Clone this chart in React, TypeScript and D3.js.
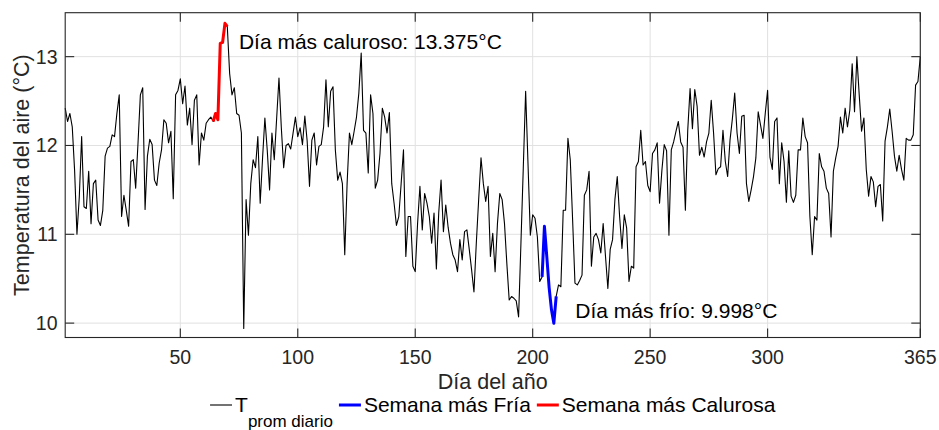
import React from 'react';
import * as d3 from 'd3';

// Daily mean air temperature (°C), day 1..365
const tempDays001to041 = [12.42, 12.27, 12.36, 12.21, 11.72, 11.0, 11.42, 12.1, 11.31, 11.29, 11.71, 11.12, 11.57, 11.61, 11.16, 11.1, 11.27, 11.88, 11.97, 11.99, 12.12, 12.1, 12.36, 12.57, 11.2, 11.44, 11.27, 11.09, 11.82, 11.84, 11.52, 12.03, 12.57, 12.65, 11.28, 11.88, 12.07, 12.01, 11.61, 11.55, 11.8];
const tempDays042to063 = [11.95, 12.29, 12.25, 12.03, 12.16, 11.4, 12.57, 12.62, 12.75, 12.47, 12.67, 12.23, 12.42, 12.01, 12.51, 12.57, 11.78, 12.14, 12.06, 12.25, 12.29, 12.32];
const tempDays064to070 = [12.27, 12.36, 12.29, 13.15, 13.16, 13.375, 13.34];
const tempDays071to082 = [12.81, 12.57, 12.65, 12.36, 12.34, 12.14, 9.94, 11.39, 10.99, 11.57, 11.84, 11.75];
const tempDays083to123 = [12.1, 11.35, 11.85, 12.31, 11.95, 11.5, 12.14, 11.84, 12.3, 12.76, 12.2, 11.75, 12.0, 12.02, 11.96, 12.14, 12.32, 12.1, 12.2, 12.01, 12.33, 12.05, 11.54, 12.06, 12.14, 11.78, 11.99, 12.01, 12.21, 12.74, 12.21, 12.61, 12.66, 11.95, 11.61, 11.7, 11.57, 10.77, 11.57, 12.14, 12.01];
const tempDays124to164 = [12.16, 12.32, 12.59, 13.04, 12.17, 12.14, 11.69, 12.57, 12.36, 11.52, 11.61, 11.91, 12.42, 12.32, 12.14, 12.37, 11.57, 11.35, 11.1, 11.2, 11.57, 11.95, 10.75, 11.2, 11.2, 10.64, 10.58, 11.12, 11.54, 11.05, 11.46, 11.35, 11.2, 10.9, 11.24, 10.61, 11.24, 11.61, 11.03, 11.33, 11.08];
const tempDays165to203 = [10.9, 10.77, 10.71, 10.58, 10.94, 10.71, 11.03, 11.05, 10.83, 10.6, 10.35, 10.9, 11.39, 11.86, 11.57, 11.37, 11.54, 10.75, 11.01, 10.58, 11.12, 11.46, 11.39, 11.12, 10.67, 10.26, 10.3, 10.28, 10.25, 10.07, 10.9, 11.75, 12.61, 11.8, 10.99, 11.22, 11.18, 10.97, 10.47];
const tempDays204to210 = [10.52, 11.09, 10.75, 10.4, 10.15, 9.998, 10.3];
const tempDays211to246 = [10.43, 10.41, 11.27, 11.27, 12.08, 11.84, 11.16, 10.45, 10.43, 10.48, 10.54, 11.44, 11.5, 11.71, 10.64, 10.97, 11.01, 10.94, 10.79, 11.12, 10.75, 10.39, 10.83, 10.94, 11.39, 11.65, 11.2, 10.84, 11.22, 11.07, 10.47, 10.64, 10.62, 11.76, 11.82, 12.17];
const tempDays247to284 = [11.78, 11.82, 11.55, 11.48, 11.91, 11.95, 12.03, 11.35, 11.72, 12.01, 11.94, 10.99, 11.95, 12.04, 12.16, 12.27, 12.04, 11.98, 11.27, 12.17, 12.64, 12.19, 12.63, 12.44, 11.89, 11.98, 11.87, 12.04, 12.14, 12.51, 12.14, 11.67, 11.74, 11.76, 12.17, 11.82, 11.65, 12.06];
const tempDays285to327 = [12.3, 12.59, 12.14, 11.91, 12.33, 12.34, 11.57, 11.37, 11.5, 11.65, 11.86, 12.38, 12.23, 12.08, 12.36, 12.62, 11.87, 11.73, 12.27, 12.31, 11.57, 12.03, 11.82, 11.36, 11.94, 11.43, 11.36, 11.44, 11.95, 11.95, 12.31, 12.1, 12.03, 11.2, 10.77, 11.2, 11.16, 11.91, 11.76, 11.71, 11.52, 11.46, 10.97];
const tempDays328to365 = [11.71, 11.86, 11.99, 12.32, 12.14, 12.42, 12.21, 12.4, 12.92, 12.38, 13.0, 12.57, 12.16, 12.31, 11.73, 11.43, 11.65, 11.59, 11.31, 11.54, 11.56, 11.15, 12.05, 12.21, 12.41, 12.16, 11.88, 11.71, 11.89, 11.73, 11.61, 12.08, 12.06, 12.06, 12.12, 12.68, 12.72, 13.0];

const temps: number[] = [
  ...tempDays001to041, ...tempDays042to063, ...tempDays064to070, ...tempDays071to082,
  ...tempDays083to123, ...tempDays124to164, ...tempDays165to203, ...tempDays204to210,
  ...tempDays211to246, ...tempDays247to284, ...tempDays285to327, ...tempDays328to365,
];
const days: number[] = temps.map((_, i) => i + 1);

const hotWeek = [64, 70];
const coldWeek = [204, 210];
const xTicks = [50, 100, 150, 200, 250, 300, 365];
const yTicks = [10, 11, 12, 13];
const xDomain = [1, 365];
const yDomain = [9.838, 13.495];

const FONT = "'Liberation Sans', Arial, Helvetica, sans-serif";
const AX = '#262626';

export default function App() {
  const ref = React.useRef<SVGSVGElement>(null);

  React.useEffect(() => {
    const svg = d3.select(ref.current);
    svg.selectAll('*').remove();

    const x = d3.scaleLinear().domain(xDomain).range([65.2, 920.3]);
    const y = d3.scaleLinear().domain(yDomain).range([337.5, 12.7]);
    const [x0, x1] = x.range();
    const y1 = y.range()[0];
    const y0 = y.range()[1];

    const g = svg.append('g');

    g.append('rect').attr('x', x0).attr('y', y0).attr('width', x1 - x0).attr('height', y1 - y0).attr('fill', '#fff');

    // grid
    g.selectAll('line.vg').data(xTicks).join('line').attr('class', 'vg')
      .attr('x1', (d) => x(d)).attr('x2', (d) => x(d)).attr('y1', y0).attr('y2', y1)
      .attr('stroke', '#e1e1e1').attr('stroke-width', 1);
    g.selectAll('line.hg').data(yTicks).join('line').attr('class', 'hg')
      .attr('x1', x0).attr('x2', x1).attr('y1', (d) => y(d)).attr('y2', (d) => y(d))
      .attr('stroke', '#e1e1e1').attr('stroke-width', 1);

    const pts = days.map((d, i) => ({ d, t: temps[i] }));
    const line = d3.line<{ d: number; t: number }>().x((p) => x(p.d)).y((p) => y(p.t));

    g.append('path').attr('d', line(pts)).attr('fill', 'none').attr('stroke', '#000')
      .attr('stroke-width', 1.1).attr('stroke-linejoin', 'round');

    const cold = pts.filter((p) => p.d >= coldWeek[0] && p.d <= coldWeek[1]);
    const hot = pts.filter((p) => p.d >= hotWeek[0] && p.d <= hotWeek[1]);
    g.append('path').attr('d', line(cold)).attr('fill', 'none').attr('stroke', '#0000ff')
      .attr('stroke-width', 3).attr('stroke-linejoin', 'round');
    g.append('path').attr('d', line(hot)).attr('fill', 'none').attr('stroke', '#ff0000')
      .attr('stroke-width', 3).attr('stroke-linejoin', 'round');

    // frame
    g.append('rect').attr('x', x0).attr('y', y0).attr('width', x1 - x0).attr('height', y1 - y0)
      .attr('fill', 'none').attr('stroke', AX).attr('stroke-width', 1.1);

    const TL = 9;
    xTicks.forEach((t) => {
      g.append('line').attr('x1', x(t)).attr('x2', x(t)).attr('y1', y1).attr('y2', y1 - TL).attr('stroke', AX).attr('stroke-width', 1.1);
      g.append('line').attr('x1', x(t)).attr('x2', x(t)).attr('y1', y0).attr('y2', y0 + TL).attr('stroke', AX).attr('stroke-width', 1.1);
    });
    yTicks.forEach((t) => {
      g.append('line').attr('x1', x0).attr('x2', x0 + TL).attr('y1', y(t)).attr('y2', y(t)).attr('stroke', AX).attr('stroke-width', 1.1);
      g.append('line').attr('x1', x1).attr('x2', x1 - TL).attr('y1', y(t)).attr('y2', y(t)).attr('stroke', AX).attr('stroke-width', 1.1);
    });

    // tick labels
    g.selectAll('text.xt').data(xTicks).join('text').attr('class', 'xt')
      .attr('x', (d) => x(d)).attr('y', 364).attr('text-anchor', 'middle')
      .attr('font-family', FONT).attr('font-size', 19.5).attr('fill', AX).text((d) => String(d));
    g.selectAll('text.yt').data(yTicks).join('text').attr('class', 'yt')
      .attr('x', 57.5).attr('y', (d) => y(d) + 7).attr('text-anchor', 'end')
      .attr('font-family', FONT).attr('font-size', 19.5).attr('fill', AX).text((d) => String(d));

    // axis labels
    g.append('text').attr('x', (x0 + x1) / 2).attr('y', 389).attr('text-anchor', 'middle')
      .attr('font-family', FONT).attr('font-size', 21.5).attr('fill', AX).text('Día del año');
    g.append('text').attr('transform', `translate(28.5,${(y0 + y1) / 2}) rotate(-90)`)
      .attr('text-anchor', 'middle').attr('font-family', FONT).attr('font-size', 21.5).attr('fill', AX)
      .text('Temperatura del aire (°C)');

    // annotations (hottest day in the hot week, coldest day in the cold week)
    const hotMax = d3.max(hot, (p) => p.t) as number;
    const coldMin = d3.min(cold, (p) => p.t) as number;
    const hotPt = hot.find((p) => p.t === hotMax)!;
    const coldPt = cold.find((p) => p.t === coldMin)!;
    g.append('text').attr('x', x(hotPt.d) + 14).attr('y', y(hotPt.t) + 26)
      .attr('font-family', FONT).attr('font-size', 21).attr('fill', '#000')
      .text(`Día más caluroso: ${hotMax.toFixed(3)}°C`);
    g.append('text').attr('x', x(coldPt.d) + 21.4).attr('y', y(coldPt.t) - 5)
      .attr('font-family', FONT).attr('font-size', 21).attr('fill', '#000')
      .text(`Día más frío: ${coldMin.toFixed(3)}°C`);

    // legend
    const lg = svg.append('g');
    const LF = 21;
    const iconW = 22;
    const gapIcon = 3;
    const gapItem = 6;
    const baseY = 412;
    const items: { color: string; label: string; sub?: string }[] = [
      { color: '#000', label: 'T', sub: 'prom diario' },
      { color: '#0000ff', label: 'Semana más Fría' },
      { color: '#ff0000', label: 'Semana más Calurosa' },
    ];
    const widths: number[] = [];
    const nodes: any[] = [];
    items.forEach((it) => {
      const t = lg.append('text').attr('font-family', FONT).attr('font-size', LF).attr('fill', '#000').attr('y', baseY);
      t.append('tspan').text(it.label);
      if (it.sub) {
        t.append('tspan').attr('dy', 15).attr('font-size', 17).text(it.sub);
      }
      nodes.push(t);
      widths.push((t.node() as SVGTextElement).getComputedTextLength());
    });
    const total = widths.reduce((a, b) => a + b, 0) + items.length * (iconW + gapIcon) + (items.length - 1) * gapItem;
    let cx = (x0 + x1) / 2 - total / 2;
    items.forEach((it, i) => {
      const lw = it.color === '#000' ? 1.1 : 3;
      lg.append('line').attr('x1', cx).attr('x2', cx + iconW).attr('y1', 405).attr('y2', 405)
        .attr('stroke', it.color).attr('stroke-width', lw);
      cx += iconW + gapIcon;
      nodes[i].attr('x', cx);
      cx += widths[i] + gapItem;
    });
  }, []);

  return (
    <svg
      ref={ref}
      width={939}
      height={430}
      style={{ position: 'absolute', left: 0, top: 0, background: '#fff', display: 'block' }}
    />
  );
}
